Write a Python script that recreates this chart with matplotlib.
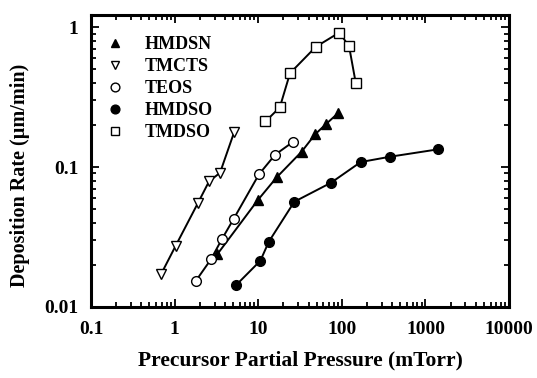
import matplotlib.pyplot as plt
from matplotlib.ticker import LogLocator, NullFormatter, FixedLocator, FixedFormatter

# data (pressure in mTorr, rate in um/min)
hmdsn_p = [3.24, 9.87, 16.6, 33.1, 47.7, 64.1, 90.8]
hmdsn_r = [0.0238, 0.058, 0.0844, 0.129, 0.171, 0.202, 0.244]

tmcts_p = [0.69, 1.03, 1.89, 2.58, 3.49, 5.14]
tmcts_r = [0.0172, 0.0274, 0.055, 0.079, 0.091, 0.177]

teos_p = [1.80, 2.72, 3.66, 5.09, 10.2, 15.9, 26.3]
teos_r = [0.0154, 0.0219, 0.0304, 0.0427, 0.0887, 0.1225, 0.152]

hmdso_p = [5.42, 10.6, 13.4, 27.0, 74.3, 168, 378, 1426]
hmdso_r = [0.0143, 0.0214, 0.0293, 0.0565, 0.0773, 0.1086, 0.1186, 0.134]

tmdso_p = [12.2, 18.1, 24.0, 48.7, 93.3, 122, 147]
tmdso_r = [0.212, 0.267, 0.469, 0.723, 0.916, 0.73, 0.396]

x_ticks = [0.1, 1, 10, 100, 1000, 10000]
x_labels = ['0.1', '1', '10', '100', '1000', '10000']
y_ticks = [0.01, 0.1, 1]
y_labels = ['0.01', '0.1', '1']

plt.rcParams['font.family'] = 'Liberation Serif'
plt.rcParams['font.weight'] = 'bold'

fig = plt.figure(figsize=(5.37, 3.78), dpi=100)
ax = fig.add_axes([0.1695, 0.188, 0.7785, 0.772])

lw = 1.4
ms = 7
ax.plot(hmdsn_p, hmdsn_r, '-^', color='black', lw=lw, ms=ms, mfc='black', label='HMDSN')
ax.plot(tmcts_p, tmcts_r, '-v', color='black', lw=lw, ms=ms, mfc='white', label='TMCTS')
ax.plot(teos_p, teos_r, '-o', color='black', lw=lw, ms=ms, mfc='white', label='TEOS')
ax.plot(hmdso_p, hmdso_r, '-o', color='black', lw=lw, ms=ms, mfc='black', label='HMDSO')
ax.plot(tmdso_p, tmdso_r, '-s', color='black', lw=lw, ms=ms, mfc='white', label='TMDSO')

ax.set_xscale('log')
ax.set_yscale('log')
ax.set_xlim(0.1, 10000)
ax.set_ylim(0.01, 1.22)

ax.xaxis.set_major_locator(FixedLocator(x_ticks))
ax.xaxis.set_major_formatter(FixedFormatter(x_labels))
ax.yaxis.set_major_locator(FixedLocator(y_ticks))
ax.yaxis.set_major_formatter(FixedFormatter(y_labels))
ax.xaxis.set_minor_locator(LogLocator(base=10, subs=range(2, 10), numticks=20))
ax.yaxis.set_minor_locator(LogLocator(base=10, subs=range(2, 10), numticks=20))
ax.xaxis.set_minor_formatter(NullFormatter())
ax.yaxis.set_minor_formatter(NullFormatter())

ax.tick_params(which='both', direction='in', top=True, right=True, width=1.3, labelsize=14)
ax.tick_params(which='major', length=6)
ax.tick_params(which='minor', length=3.5)
ax.tick_params(axis='x', pad=10)
ax.tick_params(axis='y', pad=9)
for s in ax.spines.values():
    s.set_linewidth(2.2)

ax.set_xlabel('Precursor Partial Pressure (mTorr)', fontsize=15.5, fontweight='bold', labelpad=9)
ax.set_ylabel('Deposition Rate (µm/min)', fontsize=14.5, fontweight='bold')
ax.yaxis.set_label_coords(-0.146, 0.452)

leg = ax.legend(loc='upper left', bbox_to_anchor=(-0.014, 1.0), frameon=False,
                fontsize=13, handlelength=1.0, handletextpad=1.15, labelspacing=0.28,
                borderaxespad=0.75, numpoints=1, markerscale=0.9)
for h in leg.legend_handles:
    h.set_linestyle('none')

fig.savefig('out.png', dpi=100)
